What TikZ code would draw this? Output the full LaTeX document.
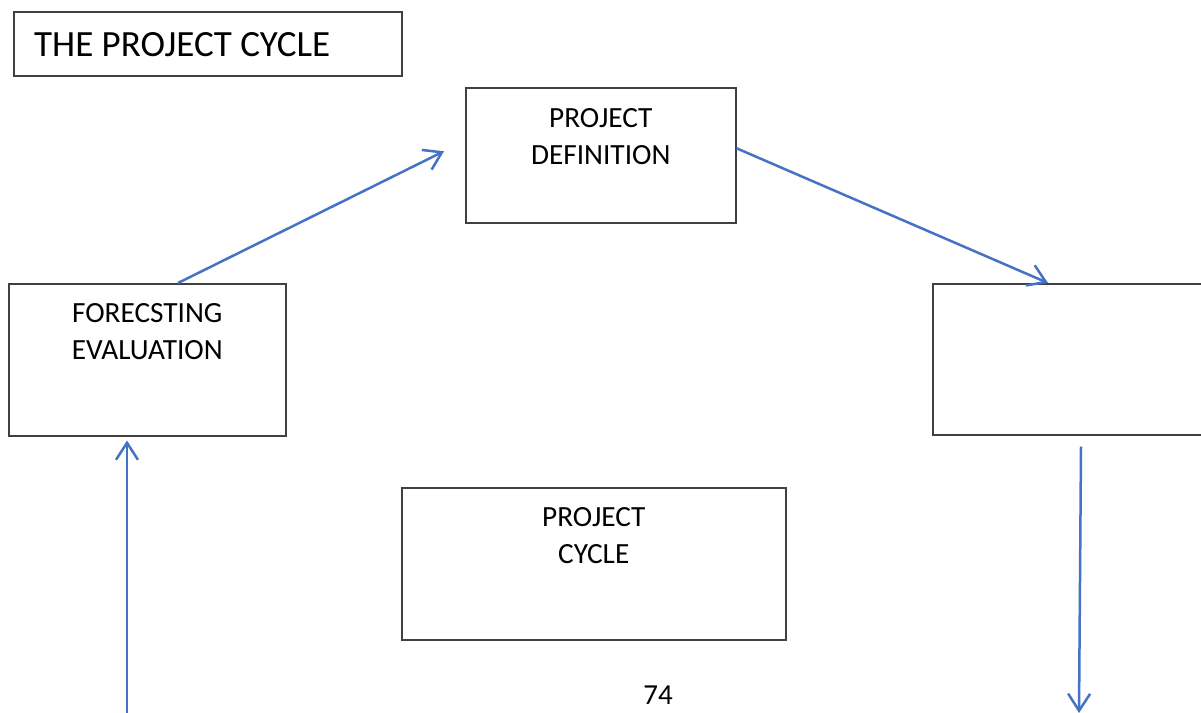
\documentclass[tikz,border=0pt]{standalone}
\usepackage{fontspec}
\setmainfont{Carlito}
\usetikzlibrary{arrows.meta,calc}
\definecolor{arrblue}{HTML}{4472C4}
\definecolor{boxgray}{HTML}{404040}
\tikzset{
  box/.style={draw=boxgray, line width=1.5pt, rectangle, anchor=north west, inner sep=0pt},
  boxtext/.style={anchor=north, align=center, inner sep=0pt, font=\fontsize{29.3}{37}\selectfont},
  arr/.style={draw=arrblue, line width=2.5pt, -{Straight Barb[length=17pt,width=22pt,line width=2.5pt]}},
}
\begin{document}
\begin{tikzpicture}[x=1pt,y=-1pt]
\useasboundingbox (0,0) rectangle (1201,712);
% title
\node[box, minimum width=388pt, minimum height=64pt] (title) at (13,11) {};
\node[anchor=west, inner sep=0pt, font=\fontsize{37}{44}\selectfont] (titletext) at (34,45) {THE PROJECT CYCLE};
% boxes
\node[box, minimum width=270pt, minimum height=135pt] (def) at (465,87) {};
\node[boxtext] (deftext) at ($(def.north)+(0,21)$) {PROJECT\\DEFINITION};
\node[box, minimum width=277pt, minimum height=152pt] (fore) at (8,283) {};
\node[boxtext] (foretext) at ($(fore.north)+(0,20)$) {FORECSTING\\EVALUATION};
\node[box, minimum width=280pt, minimum height=151pt] (right) at (932,283) {};
\node[box, minimum width=384pt, minimum height=152pt] (cyc) at (401,487) {};
\node[boxtext] (cyctext) at ($(cyc.north)+(0,20)$) {PROJECT\\CYCLE};
% page number
\node[inner sep=0pt, font=\fontsize{29}{34}\selectfont] (pagenum) at (658,695) {74};
% connectors
\coordinate (forestart) at ($(fore.north west)+(170,0)$);
\coordinate (defend) at ($(def.west)+(-21,-4)$);
\draw[arr] (forestart) -- (defend);
\coordinate (defstart) at ($(def.east)+(0,-7)$);
\coordinate (rightend) at ($(right.north west)+(116,0)$);
\draw[arr] (defstart) -- (rightend);
\coordinate (rightstart) at ($(right.south west)+(149,11)$);
\coordinate (bottomright) at (1079,713);
\draw[arr] (rightstart) -- (bottomright);
\coordinate (bottomleft) at (127,714);
\coordinate (foreend) at ($(fore.south west)+(119,4)$);
\draw[arr] (bottomleft) -- (foreend);
\end{tikzpicture}
\end{document}
